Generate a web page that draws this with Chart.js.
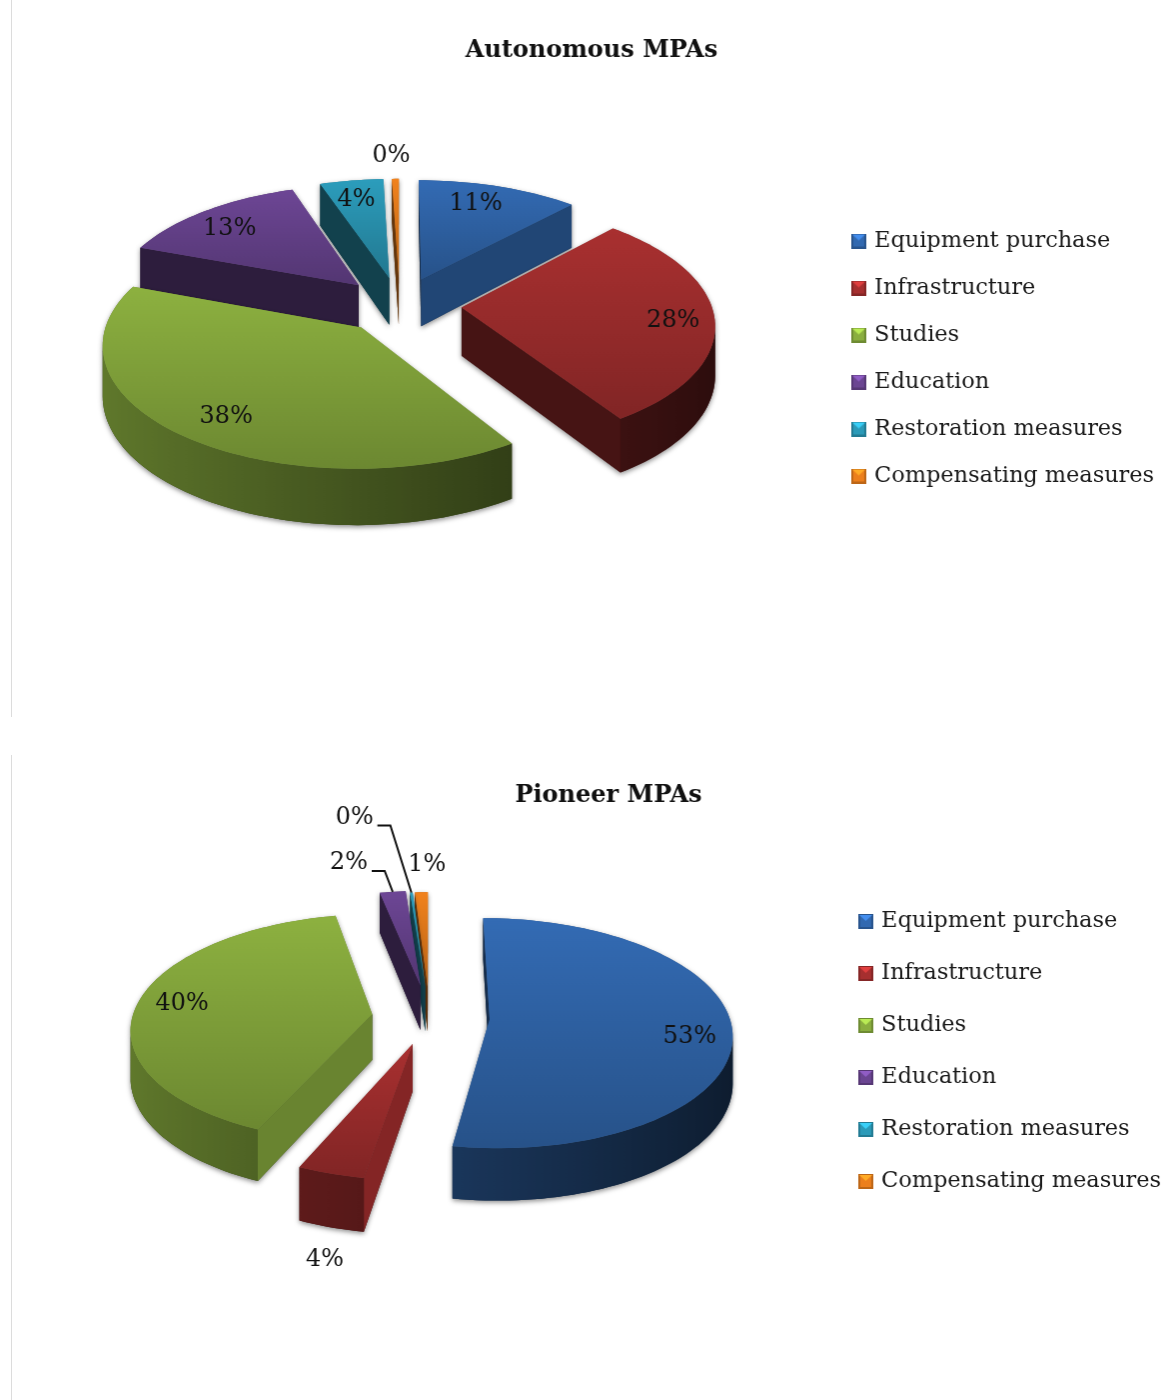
<!DOCTYPE html>
<html>
<head>
<meta charset="utf-8">
<title>MPA expenses</title>
<script src="https://cdn.jsdelivr.net/npm/chart.js@4"></script>
<style>
  html, body { margin: 0; padding: 0; background: #fff; }
  #page { position: relative; width: 1168px; height: 1400px; overflow: hidden; }
  canvas { position: absolute; left: 11px; border-left: 1px solid #dcdcdc; }
  #autonomous { top: 0; }
  #pioneer { top: 755px; }
</style>
</head>
<body>
<div id="page">
  <canvas id="autonomous" width="1156" height="717"></canvas>
  <canvas id="pioneer" width="1156" height="645"></canvas>
</div>
<script>
const categories = ['Equipment purchase', 'Infrastructure', 'Studies', 'Education', 'Restoration measures', 'Compensating measures'];
const autonomousValues = [11.4, 27.6, 37.9, 13.49, 4.49, 0.49];
const pioneerValues = [52.7, 3.9, 40.3, 2, 0.2, 1];
const sliceColors = ['#3269b0', '#a62f2f', '#8aae3f', '#6b4592', '#2b9ab8', '#ec7f1c'];

const autonomousExplode = [60, 62, 60, 60, 60, 60];
const pioneerExplode = [60, 58, 58, 70, 66, 66];

// label tweaks from the default anchor, [dx, dy]
const autonomousNudges = [[-3, -7], [30, 5], [-8, 15], [-16, -2], [-5, -6], [-5, -49]];
const pioneerNudges = [[26, 11], [-31, 126], [-21, -2], [-44, -29], [-57, -75], [4, -52]];
const pioneerLeaders = [false, false, false, true, true, false];

const serif = '"DejaVu Serif", serif';

function shade(hex, f) {
  const n = parseInt(hex.slice(1), 16);
  const c = [n >> 16, (n >> 8) & 255, n & 255].map(v => Math.min(255, Math.round(v * f)));
  return `rgb(${c[0]},${c[1]},${c[2]})`;
}

function legendIcon(color) {
  const c = document.createElement('canvas');
  c.width = 15;
  c.height = 15;
  const g = c.getContext('2d');
  g.fillStyle = shade(color, 0.8);
  g.fillRect(0, 0, 15, 15);
  g.fillStyle = shade(color, 1);
  g.fillRect(2, 2, 11, 11);
  g.fillStyle = shade(color, 1.35);
  g.beginPath();
  g.moveTo(1, 1);
  g.lineTo(14, 1);
  g.lineTo(7.5, 7);
  g.closePath();
  g.fill();
  return c;
}

function project(g, u, v, z) {
  const d = 1 - v * g.persp;
  return { x: g.cx + u / d, y: g.cy + (v * g.tilt + z) / d };
}

function fillPoly(ctx, pts, style) {
  ctx.beginPath();
  pts.forEach((p, i) => (i ? ctx.lineTo(p.x, p.y) : ctx.moveTo(p.x, p.y)));
  ctx.closePath();
  ctx.fillStyle = style;
  ctx.fill();
}

function sliceGeometry(g, arc) {
  const a = arc.startAngle;
  const b = arc.endAngle;
  const mid = (a + b) / 2;
  const off = arc.options.offset;
  const R = arc.outerRadius;
  const cu = Math.cos(mid) * off;
  const cv = Math.sin(mid) * off;
  const steps = Math.max(2, Math.ceil((b - a) / 0.03));
  const rim = [];
  for (let i = 0; i <= steps; i++) {
    const t = a + (b - a) * i / steps;
    rim.push({ t, u: cu + Math.cos(t) * R, v: cv + Math.sin(t) * R });
  }
  return { a, b, mid, cu, cv, R, rim };
}

function drawSlice(ctx, g, arc, color) {
  const s = sliceGeometry(g, arc);
  const eyeV = 1 / g.persp;
  const top = [project(g, s.cu, s.cv, 0)].concat(s.rim.map(p => project(g, p.u, p.v, 0)));

  // radial walls
  const walls = [];
  const first = s.rim[0];
  const last = s.rim[s.rim.length - 1];
  const nStart = { x: Math.sin(s.a), y: -Math.cos(s.a) };
  const nEnd = { x: -Math.sin(s.b), y: Math.cos(s.b) };
  [[first, nStart], [last, nEnd]].forEach(([edge, n]) => {
    if (n.x * -s.cu + n.y * (eyeV - s.cv) <= 0) return;
    walls.push({
      n,
      pts: [project(g, s.cu, s.cv, 0), project(g, edge.u, edge.v, 0),
            project(g, edge.u, edge.v, g.depth), project(g, s.cu, s.cv, g.depth)]
    });
  });

  // outer wall, only the part that faces the viewer
  const seen = s.rim.filter(p => Math.cos(p.t) * -p.u + Math.sin(p.t) * (eyeV - p.v) > 0);
  const upper = seen.map(p => project(g, p.u, p.v, 0));
  const lower = seen.map(p => project(g, p.u, p.v, g.depth)).reverse();
  const outer = upper.concat(lower);

  // soft shadow under the whole wedge
  ctx.save();
  ctx.shadowColor = 'rgba(0,0,0,0.45)';
  ctx.shadowBlur = 5;
  ctx.shadowOffsetY = 2;
  walls.forEach(w => fillPoly(ctx, w.pts, shade(color, 0.4)));
  if (seen.length > 1) fillPoly(ctx, outer, shade(color, 0.4));
  fillPoly(ctx, top, shade(color, 0.8));
  ctx.restore();

  walls.sort((p, q) => p.pts[1].y - q.pts[1].y).forEach(w => {
    const f = w.n.x > 0 ? 0.3 + 0.5 * w.n.x : 0.42;
    fillPoly(ctx, w.pts, shade(color, f));
  });

  if (seen.length > 1) {
    const xs = upper.map(p => p.x);
    const x0 = Math.min(...xs);
    const x1 = Math.max(...xs);
    const wallGrad = ctx.createLinearGradient(x0, 0, x1, 0);
    seen.forEach((p, i) => {
      wallGrad.addColorStop((upper[i].x - x0) / (x1 - x0), shade(color, 0.48 - 0.22 * Math.cos(p.t)));
    });
    fillPoly(ctx, outer, wallGrad);
  }

  const ys = top.map(p => p.y);
  const grad = ctx.createLinearGradient(0, Math.min(...ys), 0, Math.max(...ys));
  grad.addColorStop(0, shade(color, 1.02));
  grad.addColorStop(1, shade(color, 0.78));
  fillPoly(ctx, top, grad);
}

function drawLabel(ctx, g, arc, value, nudge, leader) {
  const s = sliceGeometry(g, arc);
  const frac = leader ? 1 : 0.72;
  const p = project(g, s.cu + Math.cos(s.mid) * s.R * frac, s.cv + Math.sin(s.mid) * s.R * frac, 0);
  const x = p.x + nudge[0];
  const y = p.y + nudge[1];
  if (leader) {
    ctx.beginPath();
    ctx.moveTo(p.x, p.y);
    ctx.lineTo(x + 36, y + 8);
    ctx.lineTo(x + 23, y + 8);
    ctx.strokeStyle = '#111';
    ctx.lineWidth = 2;
    ctx.stroke();
  }
  ctx.font = `24px ${serif}`;
  ctx.fillStyle = '#111';
  ctx.textAlign = 'center';
  ctx.textBaseline = 'middle';
  ctx.fillText(Math.round(value) + '%', x, y);
}

// draws the arcs that the pie controller laid out as tilted 3D wedges
const pie3d = {
  id: 'pie3d',
  beforeDatasetDraw(chart, args, opts) {
    const ctx = chart.ctx;
    const arcs = chart.getDatasetMeta(args.index).data;
    const order = arcs.map((arc, i) => i).sort((i, j) => {
      const mi = (arcs[i].startAngle + arcs[i].endAngle) / 2;
      const mj = (arcs[j].startAngle + arcs[j].endAngle) / 2;
      return Math.sin(mi) - Math.sin(mj);
    });
    ctx.save();
    order.forEach(i => drawSlice(ctx, opts, arcs[i], sliceColors[i]));
    arcs.forEach((arc, i) => {
      drawLabel(ctx, opts, arc, chart.data.datasets[0].data[i], opts.nudges[i], opts.leaders && opts.leaders[i]);
    });
    ctx.restore();
    return false;
  }
};

function makeChart(id, titleText, values, explode, radius, pie, legendGap, pad, titleBottom) {
  return new Chart(document.getElementById(id), {
    type: 'pie',
    data: {
      labels: categories,
      datasets: [{ data: values, backgroundColor: sliceColors, offset: explode, borderWidth: 0 }]
    },
    options: {
      responsive: false,
      animation: false,
      radius: radius,
      layout: { padding: pad },
      plugins: {
        pie3d: pie,
        tooltip: { enabled: false },
        title: {
          display: true,
          text: titleText,
          color: '#111',
          font: { family: serif, size: 24, weight: 'bold' },
          padding: { top: pie.titleTop, bottom: titleBottom }
        },
        legend: {
          position: 'right',
          labels: {
            color: '#1a1a1a',
            font: { family: serif, size: 22.4 },
            padding: legendGap,
            usePointStyle: true,
            pointStyleWidth: 9,
            generateLabels(chart) {
              return chart.data.labels.map((text, i) => ({
                text,
                index: i,
                fontColor: '#1a1a1a',
                pointStyle: legendIcon(sliceColors[i]),
                hidden: false,
                lineWidth: 0
              }));
            }
          }
        }
      }
    },
    plugins: [pie3d]
  });
}

makeChart('autonomous', 'Autonomous MPAs', autonomousValues, autonomousExplode, 250,
  { cx: 388, cy: 305, tilt: 0.47, persp: 0.0005, depth: 48, titleTop: 36, nudges: autonomousNudges },
  24.6, { left: 7, bottom: 0, right: 3 }, 40);

makeChart('pioneer', 'Pioneer MPAs', pioneerValues, pioneerExplode, 240,
  { cx: 418, cy: 262, tilt: 0.47, persp: 0.0005, depth: 46, titleTop: 26, nudges: pioneerNudges, leaders: pioneerLeaders },
  29.6, { left: 34, bottom: 52, right: -4 }, 20);
</script>
</body>
</html>
